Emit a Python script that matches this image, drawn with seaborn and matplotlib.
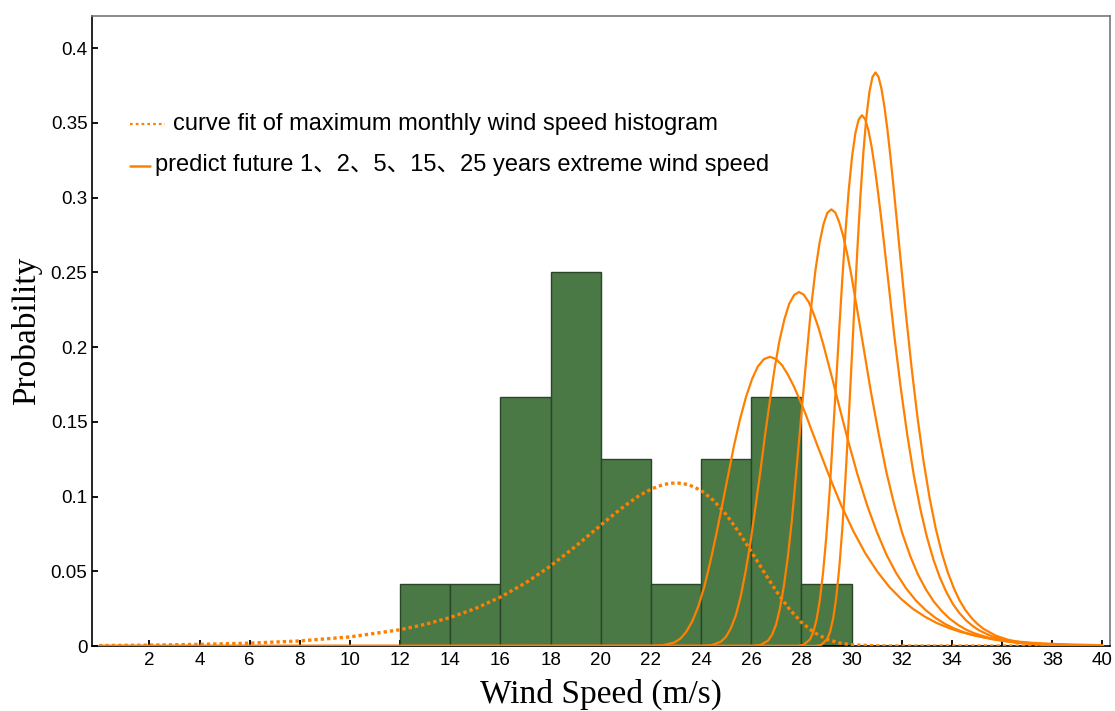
import matplotlib
matplotlib.use("Agg")
import matplotlib.pyplot as plt
from matplotlib.lines import Line2D
import seaborn as sns

# ---------------- data ----------------
bin_edges = [12, 14, 16, 18, 20, 22, 24, 26, 28, 30]
bin_probs = [0.0417, 0.0417, 0.1667, 0.25, 0.125, 0.0417, 0.125, 0.1667, 0.0417]

fit_x = [0, 2, 4, 6, 8, 10, 12, 13, 14, 15, 16, 17, 18, 19, 20, 20.5, 21, 21.5, 22, 22.5,
         23, 23.5, 24, 24.5, 25, 25.5, 26, 26.5, 27, 27.5, 28, 28.5, 29, 29.5, 30, 31, 32, 40]
fit_y = [0.0003, 0.0006, 0.0011, 0.0019, 0.0034, 0.0061, 0.0109, 0.0145, 0.0191, 0.0251,
         0.0328, 0.0422, 0.0536, 0.0668, 0.0809, 0.0878, 0.0944, 0.1003, 0.1050, 0.1081,
         0.1093, 0.1080, 0.1041, 0.0973, 0.0880, 0.0763, 0.0632, 0.0497, 0.0366, 0.0251,
         0.0158, 0.0091, 0.0046, 0.0021, 0.0008, 0.0001, 0.0, 0.0]

c1_x = [0, 21.99, 22.46, 22.94, 23.18, 23.41, 23.65, 23.89, 24.13, 24.36, 24.60, 24.84, 25.08,
        25.31, 25.55, 25.79, 26.03, 26.26, 26.50, 26.74, 26.98, 27.22, 27.45, 27.69, 27.93,
        28.17, 28.40, 28.64, 29.12, 29.59, 30.07, 30.54, 31.02, 31.49, 31.97, 32.44, 32.92,
        33.39, 33.87, 34.34, 34.82, 35.29, 36.25, 37.20, 38.15, 40.0]
c1_y = [0, 0.00003, 0.00038, 0.0024, 0.00505, 0.00958, 0.01664, 0.02667, 0.03986, 0.05599,
        0.07446, 0.09436, 0.1146, 0.13409, 0.15174, 0.16678, 0.17864, 0.18704, 0.19195,
        0.19352, 0.19207, 0.18801, 0.18183, 0.17396, 0.16487, 0.15494, 0.14453, 0.13395,
        0.11317, 0.09391, 0.07684, 0.06218, 0.0499, 0.03977, 0.03155, 0.02492, 0.01962,
        0.01542, 0.01208, 0.00946, 0.0074, 0.00578, 0.00352, 0.00214, 0.0013, 0.0005]

c2_x = [0, 24.02, 24.41, 24.79, 24.99, 25.18, 25.38, 25.57, 25.76, 25.96, 26.15, 26.35, 26.54,
        26.74, 26.93, 27.12, 27.32, 27.51, 27.71, 27.90, 28.09, 28.29, 28.48, 28.68, 28.87,
        29.06, 29.26, 29.45, 29.84, 30.23, 30.62, 31.01, 31.39, 31.78, 32.17, 32.56, 32.95,
        33.34, 33.72, 34.11, 34.50, 34.89, 35.67, 36.44, 37.22, 38.77, 40.0]
c2_y = [0, 0.00004, 0.00046, 0.00294, 0.00618, 0.01173, 0.02037, 0.03265, 0.04879, 0.06853,
        0.09114, 0.1155, 0.14028, 0.16414, 0.18574, 0.20415, 0.21868, 0.22896, 0.23496,
        0.23689, 0.23512, 0.23015, 0.22258, 0.21294, 0.20181, 0.18965, 0.17692, 0.16397,
        0.13853, 0.11495, 0.09406, 0.07611, 0.06108, 0.04869, 0.03862, 0.0305, 0.02402,
        0.01887, 0.01479, 0.01158, 0.00905, 0.00707, 0.00431, 0.00262, 0.00159, 0.00059,
        0.0002]

c3_x = [0, 26.04, 26.36, 26.67, 26.83, 26.99, 27.14, 27.30, 27.46, 27.62, 27.77, 27.93, 28.09,
        28.25, 28.40, 28.56, 28.72, 28.88, 29.03, 29.19, 29.35, 29.50, 29.66, 29.82, 29.98,
        30.13, 30.29, 30.45, 30.76, 31.08, 31.39, 31.71, 32.02, 32.34, 32.65, 32.97, 33.28,
        33.60, 33.91, 34.23, 34.54, 34.86, 35.49, 36.11, 36.74, 38.00, 40.0]
c3_y = [0, 0.00005, 0.00057, 0.00363, 0.00763, 0.01447, 0.02513, 0.04027, 0.06018, 0.08454,
        0.11242, 0.14247, 0.17304, 0.20246, 0.22911, 0.25182, 0.26974, 0.28242, 0.28982,
        0.2922, 0.29002, 0.28388, 0.27455, 0.26267, 0.24894, 0.23394, 0.21824, 0.20226,
        0.17087, 0.1418, 0.11602, 0.09388, 0.07534, 0.06006, 0.04763, 0.03762, 0.02963,
        0.02328, 0.01825, 0.01428, 0.01117, 0.00872, 0.00531, 0.00323, 0.00196, 0.00072,
        0.0001]

c4_x = [0, 27.82, 28.08, 28.34, 28.47, 28.60, 28.73, 28.86, 28.99, 29.12, 29.24, 29.37, 29.50,
        29.63, 29.76, 29.89, 30.02, 30.15, 30.28, 30.41, 30.54, 30.67, 30.80, 30.93, 31.06,
        31.19, 31.32, 31.45, 31.70, 31.96, 32.22, 32.48, 32.74, 33.00, 33.26, 33.52, 33.78,
        34.03, 34.29, 34.55, 34.81, 35.07, 35.59, 36.11, 36.62, 37.66, 40.0]
c4_y = [0, 0.00006, 0.00069, 0.00441, 0.00927, 0.01759, 0.03055, 0.04895, 0.07316, 0.10276,
        0.13666, 0.17319, 0.21035, 0.24611, 0.27851, 0.30611, 0.32789, 0.34331, 0.35231,
        0.3552, 0.35254, 0.34509, 0.33375, 0.3193, 0.30261, 0.28438, 0.26529, 0.24586,
        0.20771, 0.17237, 0.14103, 0.11413, 0.09159, 0.073, 0.0579, 0.04574, 0.03601,
        0.0283, 0.02218, 0.01736, 0.01358, 0.0106, 0.00646, 0.00393, 0.00239, 0.00088,
        0.00008]

c5_x = [0, 28.55, 28.79, 29.03, 29.15, 29.27, 29.39, 29.51, 29.63, 29.75, 29.87, 29.99, 30.11,
        30.23, 30.35, 30.47, 30.59, 30.71, 30.83, 30.95, 31.07, 31.19, 31.31, 31.43, 31.55,
        31.67, 31.79, 31.91, 32.15, 32.39, 32.63, 32.87, 33.11, 33.35, 33.59, 33.83, 34.07,
        34.30, 34.54, 34.78, 35.02, 35.26, 35.74, 36.22, 36.70, 37.66, 40.0]
c5_y = [0, 0.00007, 0.00075, 0.00476, 0.01002, 0.01901, 0.03301, 0.0529, 0.07905, 0.11104,
        0.14767, 0.18714, 0.22729, 0.26594, 0.30094, 0.33077, 0.3543, 0.37097, 0.38069,
        0.38381, 0.38094, 0.37289, 0.36063, 0.34502, 0.32698, 0.30728, 0.28666, 0.26567,
        0.22445, 0.18625, 0.1524, 0.12332, 0.09896, 0.07888, 0.06257, 0.04942, 0.03891,
        0.03058, 0.02397, 0.01876, 0.01467, 0.01146, 0.00698, 0.00425, 0.00258, 0.00095,
        0.0001]

x_ticks = [2, 4, 6, 8, 10, 12, 14, 16, 18, 20, 22, 24, 26, 28, 30, 32, 34, 36, 38, 40]
y_ticks = [0, 0.05, 0.1, 0.15, 0.2, 0.25, 0.3, 0.35, 0.4]
x_label = "Wind Speed (m/s)"
y_label = "Probability"
legend_fit = "curve fit of maximum monthly wind speed histogram"
legend_pred = "predict future 1\u30012\u30015\u300115\u300125 years extreme wind speed"

# ---------------- style ----------------
sns.set_style("white")
plt.rcParams["font.family"] = ["Liberation Sans", "Noto Sans CJK SC", "DejaVu Sans"]
for key in ["text.color", "axes.labelcolor", "xtick.color", "ytick.color"]:
    plt.rcParams[key] = "black"

ORANGE = "#ff8000"
BAR = "#4a7945"
BAR_EDGE = "#2b4528"

fig = plt.figure(figsize=(11.15, 7.11), dpi=100)
ax = fig.add_axes([0.0822, 0.0914, 0.9133, 0.8861])

centers = [(a + b) / 2 for a, b in zip(bin_edges[:-1], bin_edges[1:])]
sns.histplot(x=centers, weights=bin_probs, bins=bin_edges, stat="count",
             color=BAR, edgecolor=BAR_EDGE, linewidth=1.0, alpha=1.0, ax=ax, zorder=1)

for cx, cy in [(c1_x, c1_y), (c2_x, c2_y), (c3_x, c3_y), (c4_x, c4_y), (c5_x, c5_y)]:
    sns.lineplot(x=cx, y=cy, estimator=None, sort=False, color=ORANGE,
                 linewidth=1.6, ax=ax, zorder=3)

sns.lineplot(x=fit_x, y=fit_y, estimator=None, sort=False, color=ORANGE,
             linewidth=2.4, linestyle=(0, (1, 0.9)), dash_capstyle="butt", ax=ax, zorder=4)

ax.set_xlim(-0.3, 40.3)
ax.set_ylim(0, 0.4216)
ax.set_xticks(x_ticks)
ax.set_xticklabels([str(t) for t in x_ticks])
ax.set_yticks(y_ticks)
ax.set_yticklabels([f"{t:g}" for t in y_ticks])
ax.tick_params(axis="both", which="major", direction="in", length=4, width=1.3,
               labelsize=13.5, color="black", pad=3, bottom=True, left=True,
               top=False, right=False)
ax.tick_params(axis="x", pad=4)

for side in ["left", "bottom"]:
    ax.spines[side].set_color("black")
    ax.spines[side].set_linewidth(1.2)
for side in ["top", "right"]:
    ax.spines[side].set_color("#777777")
    ax.spines[side].set_linewidth(1.2)
    ax.spines[side].set_visible(True)

ax.set_xlabel(x_label, family="Liberation Serif", fontsize=24, labelpad=7)
ax.set_ylabel(y_label, family="Liberation Serif", fontsize=24, labelpad=6.5)

# legend (manual)
ax.add_line(Line2D([0.0376, 0.072], [0.8286, 0.8286], transform=ax.transAxes,
                   color=ORANGE, linewidth=1.6, linestyle=(0, (1.2, 1.4))))
ax.text(0.0798, 0.819, legend_fit, transform=ax.transAxes, fontsize=17,
        va="baseline", ha="left")
ax.add_line(Line2D([0.0376, 0.0573], [0.7619, 0.7619], transform=ax.transAxes,
                   color=ORANGE, linewidth=1.8))
ax.text(0.0622, 0.754, legend_pred, transform=ax.transAxes, fontsize=17,
        va="baseline", ha="left",
        family=["Liberation Sans", "Noto Sans CJK SC", "DejaVu Sans"])

fig.savefig("out.png", dpi=100)
